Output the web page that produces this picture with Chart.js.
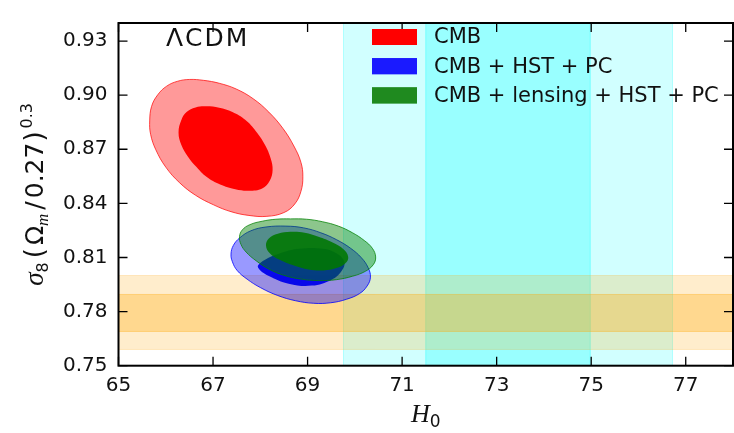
<!DOCTYPE html>
<html>
<head>
<meta charset="utf-8">
<script src="https://cdn.jsdelivr.net/npm/chart.js@4.4.1/dist/chart.umd.min.js"></script>
<style>
  html, body { margin: 0; padding: 0; background: #fff; }
</style>
</head>
<body>
<canvas id="c" width="734" height="433"></canvas>
<script>
const xRange = [65, 78];
const yRange = [0.75, 0.94];
const xTicks = [65, 67, 69, 71, 73, 75, 77];
const yTicks = [0.75, 0.78, 0.81, 0.84, 0.87, 0.90, 0.93];

// local H0 band: 2 sigma low, 1 sigma low, 1 sigma high, 2 sigma high
const h0Band = [69.76, 71.50, 74.98, 76.72];
// cluster band on sigma8 (Om/0.27)^0.3, same order
const s8Band = [0.759, 0.769, 0.7895, 0.800];

const seriesNames = ['CMB', 'CMB + HST + PC', 'CMB + lensing + HST + PC'];

// contour outlines, [H0, sigma8 factor]
const cmbOuter = [[65.66,0.8857],[65.70,0.8938],[65.83,0.9002],[66.02,0.9050],[66.25,0.9077],[66.50,0.9087],[66.80,0.9082],[67.13,0.9066],[67.49,0.9034],[67.85,0.8980],[68.18,0.8906],[68.48,0.8815],[68.71,0.8718],[68.86,0.8627],[68.90,0.8547],[68.86,0.8467],[68.73,0.8397],[68.50,0.8349],[68.14,0.8328],[67.76,0.8333],[67.38,0.8354],[67.01,0.8392],[66.63,0.8445],[66.29,0.8515],[66.00,0.8601],[65.79,0.8697],[65.68,0.8782]];
const cmbInner = [[66.27,0.8793],[66.33,0.8862],[66.44,0.8906],[66.63,0.8932],[66.86,0.8938],[67.13,0.8930],[67.41,0.8906],[67.68,0.8863],[67.91,0.8799],[68.10,0.8724],[68.22,0.8649],[68.26,0.8585],[68.20,0.8526],[68.04,0.8483],[67.76,0.8470],[67.47,0.8478],[67.15,0.8504],[66.86,0.8547],[66.65,0.8601],[66.47,0.8659],[66.33,0.8724]];
const hstOuter = [[67.38,0.8119],[67.43,0.8167],[67.57,0.8210],[67.80,0.8248],[68.12,0.8269],[68.54,0.8274],[68.92,0.8264],[69.28,0.8237],[69.61,0.8199],[69.91,0.8151],[70.14,0.8098],[70.28,0.8044],[70.33,0.7991],[70.26,0.7942],[70.10,0.7900],[69.82,0.7868],[69.49,0.7849],[69.13,0.7846],[68.75,0.7860],[68.37,0.7889],[68.01,0.7932],[67.72,0.7980],[67.51,0.8028],[67.41,0.8076]];
const hstInner = [[67.95,0.8055],[68.10,0.8088],[68.39,0.8121],[68.81,0.8148],[69.34,0.8148],[69.65,0.8116],[69.78,0.8073],[69.72,0.8025],[69.51,0.7977],[69.09,0.7944],[68.60,0.7955],[68.18,0.7998],[67.99,0.8031]];
const lensOuter = [[67.56,0.8215],[67.62,0.8253],[67.78,0.8282],[68.04,0.8301],[68.33,0.8312],[68.64,0.8314],[68.98,0.8312],[69.32,0.8298],[69.65,0.8274],[69.95,0.8237],[70.20,0.8194],[70.37,0.8151],[70.44,0.8103],[70.39,0.8060],[70.22,0.8023],[69.95,0.7996],[69.61,0.7977],[69.23,0.7972],[68.86,0.7980],[68.50,0.8001],[68.18,0.8036],[67.91,0.8082],[67.70,0.8130],[67.59,0.8173]];
const lensInner = [[68.12,0.8167],[68.18,0.8205],[68.37,0.8231],[68.64,0.8242],[68.94,0.8237],[69.23,0.8215],[69.53,0.8183],[69.76,0.8146],[69.86,0.8103],[69.80,0.8068],[69.61,0.8041],[69.34,0.8028],[69.02,0.8033],[68.71,0.8055],[68.41,0.8087],[68.20,0.8124]];

const legendColors = ['#ff0000', '#1a1aff', '#1f8a1f'];

Chart.defaults.font.family = '"DejaVu Sans", sans-serif';
Chart.defaults.color = '#111';

// closed outline filled inside
function blob(pts, fillCol, lineCol, lw, order, tension) {
  return {
    data: pts.map(p => ({ x: p[0], y: p[1] })),
    closed: true,
    fill: 'shape',
    backgroundColor: fillCol,
    borderColor: lineCol,
    borderWidth: lw,
    pointRadius: 0,
    pointHoverRadius: 0,
    tension: tension,
    order: order
  };
}

function vBand(lo, hi) {
  return [[lo, yRange[0]], [lo, yRange[1]], [hi, yRange[1]], [hi, yRange[0]]];
}
function hBand(lo, hi) {
  return [[xRange[0], lo], [xRange[1], lo], [xRange[1], hi], [xRange[0], hi]];
}

const datasets = [
  blob(lensInner, 'rgba(0,120,0,0.88)', 'rgba(0,0,0,0)', 0, 0, 0.4),
  blob(lensOuter, 'rgba(0,128,0,0.45)', 'rgba(0,128,0,0.75)', 1, 1, 0.4),
  blob(hstInner, 'rgba(0,0,235,0.95)', 'rgba(0,0,0,0)', 0, 2, 0.4),
  blob(hstOuter, 'rgba(0,0,255,0.4)', 'rgba(0,0,255,0.8)', 1, 3, 0.4),
  blob(cmbInner, 'rgb(255,0,0)', 'rgba(0,0,0,0)', 0, 4, 0.4),
  blob(cmbOuter, 'rgba(255,0,0,0.4)', 'rgba(255,0,0,0.7)', 1, 5, 0.4),
  blob(hBand(s8Band[1], s8Band[2]), 'rgba(255,165,0,0.3)', 'rgba(255,165,0,0.35)', 1, 6, 0),
  blob(hBand(s8Band[0], s8Band[3]), 'rgba(255,165,0,0.2)', 'rgba(255,165,0,0.2)', 1, 7, 0),
  blob(vBand(h0Band[1], h0Band[2]), 'rgba(0,255,255,0.27)', 'rgba(0,255,255,0.35)', 1, 8, 0),
  blob(vBand(h0Band[0], h0Band[3]), 'rgba(0,255,255,0.18)', 'rgba(0,255,255,0.25)', 1, 9, 0)
];

// make the outlines wrap around like a radar line so the curve has no seam
const closeLoops = {
  id: 'closeLoops',
  afterDatasetUpdate(chart, args) {
    const line = args.meta.dataset;
    if (line && chart.data.datasets[args.index].closed) {
      line._loop = true;
      line._fullLoop = true;
    }
  }
};

function drawRuns(ctx, runs, cx, cy, angle) {
  let total = 0;
  runs.forEach(r => {
    ctx.font = r.font;
    r.w = ctx.measureText(r.t).width + (r.gap || 0);
    total += r.w;
  });
  ctx.save();
  ctx.translate(cx, cy);
  ctx.rotate(angle);
  ctx.textBaseline = 'alphabetic';
  ctx.textAlign = 'left';
  let px = -total / 2;
  runs.forEach(r => {
    ctx.font = r.font;
    ctx.fillText(r.t, px, r.dy || 0);
    px += r.w;
  });
  ctx.restore();
}

const decor = {
  id: 'decor',
  afterDraw(chart) {
    const ctx = chart.ctx;
    const a = chart.chartArea;
    const x = chart.scales.x, y = chart.scales.y;
    ctx.save();

    // inward ticks on all four sides
    ctx.strokeStyle = '#000';
    ctx.lineWidth = 1.3;
    ctx.beginPath();
    x.ticks.forEach(t => {
      const p = x.getPixelForValue(t.value);
      ctx.moveTo(p, a.bottom); ctx.lineTo(p, a.bottom - 9);
      ctx.moveTo(p, a.top); ctx.lineTo(p, a.top + 9);
    });
    y.ticks.forEach(t => {
      const p = y.getPixelForValue(t.value);
      ctx.moveTo(a.left, p); ctx.lineTo(a.left + 9, p);
      ctx.moveTo(a.right, p); ctx.lineTo(a.right - 9, p);
    });
    ctx.stroke();

    ctx.lineWidth = 2;
    ctx.strokeRect(a.left, a.top, a.right - a.left, a.bottom - a.top);

    ctx.fillStyle = '#111';
    ctx.textBaseline = 'alphabetic';
    ctx.font = '25px "DejaVu Sans"';
    ctx.letterSpacing = '2px';
    ctx.fillText('\u039BCDM', 166, 46);
    ctx.letterSpacing = '0px';

    // legend
    ctx.font = '21px "DejaVu Sans"';
    ctx.textBaseline = 'middle';
    seriesNames.forEach((name, i) => {
      const top = 29 + i * 29.2;
      ctx.fillStyle = legendColors[i];
      ctx.fillRect(372, top, 45, 16);
      ctx.strokeStyle = legendColors[i];
      ctx.lineWidth = 1;
      ctx.strokeRect(372.5, top + 0.5, 44, 15);
      ctx.fillStyle = '#111';
      ctx.fillText(name, 434, top + 9);
    });

    // axis titles
    ctx.fillStyle = '#111';
    drawRuns(ctx, [
      { t: 'H', font: 'italic 26px "Liberation Serif"' },
      { t: '0', font: '17px "DejaVu Sans"', dy: 5 }
    ], (a.left + a.right) / 2, 422, 0);

    drawRuns(ctx, [
      { t: '\u03C3', font: 'italic 27px "Liberation Serif"' },
      { t: '8', font: '16px "DejaVu Sans"', dy: 5, gap: 4 },
      { t: '(', font: '26px "DejaVu Sans"', gap: 3 },
      { t: '\u03A9', font: '25px "DejaVu Sans"' },
      { t: 'm', font: 'italic 17px "Liberation Serif"', dy: 5, gap: 4 },
      { t: '/', font: '25px "DejaVu Sans"', gap: 3 },
      { t: '0.27', font: '25px "DejaVu Sans"', gap: 1 },
      { t: ')', font: '26px "DejaVu Sans"', gap: 3 },
      { t: '0.3', font: '16px "DejaVu Sans"', dy: -11 }
    ], 43, (a.top + a.bottom) / 2, -Math.PI / 2);

    ctx.restore();
  }
};

new Chart(document.getElementById('c').getContext('2d'), {
  type: 'line',
  data: { datasets: datasets },
  plugins: [closeLoops, decor],
  options: {
    responsive: false,
    devicePixelRatio: 1,
    animation: false,
    events: [],
    layout: { padding: { top: 10, right: 1, left: 0, bottom: 0 } },
    plugins: { legend: { display: false }, tooltip: { enabled: false } },
    scales: {
      x: {
        type: 'linear',
        min: xRange[0],
        max: xRange[1],
        grid: { display: false, drawTicks: false },
        border: { display: false },
        afterFit: s => { s.height = 67.3; },
        afterBuildTicks: s => { s.ticks = xTicks.map(v => ({ value: v })); },
        ticks: { padding: 8, font: { size: 20 }, color: '#111', maxRotation: 0, callback: v => String(v) }
      },
      y: {
        type: 'linear',
        min: yRange[0],
        max: yRange[1],
        grid: { display: false, drawTicks: false },
        border: { display: false },
        afterFit: s => { s.width = 118.5; },
        afterBuildTicks: s => { s.ticks = yTicks.map(v => ({ value: v })); },
        ticks: { padding: 11, font: { size: 20 }, color: '#111', callback: v => v.toFixed(2) }
      }
    }
  }
});
</script>
</body>
</html>
